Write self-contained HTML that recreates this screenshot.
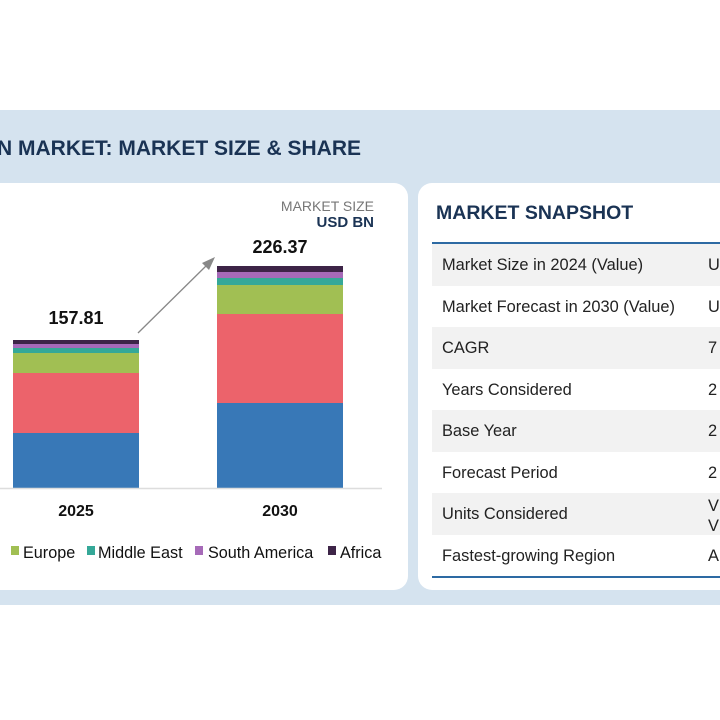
<!DOCTYPE html>
<html><head><style>
body{margin:0;width:720px;height:720px;background:#fff;position:relative;overflow:hidden;font-family:"Liberation Sans",sans-serif}
.band{position:absolute;left:0;top:110px;width:720px;height:495px;background:#d5e3ef}
.t{position:absolute;white-space:nowrap}
.card{position:absolute;background:#fff;border-radius:14px}
.row{position:absolute;left:432px;width:288px;height:41.5px;font-size:16.4px;color:#222}
.row span{position:absolute;top:12px}
</style></head><body>
<div class="band"></div>
<div class="t" style="left:-3px;top:137px;font-size:21px;font-weight:bold;color:#1a3354">N MARKET: MARKET SIZE &amp; SHARE</div>
<div class="card" style="left:-20px;top:183px;width:428px;height:407px"></div>
<div class="card" style="left:418px;top:183px;width:320px;height:407px"></div>
<div class="t" style="right:346px;top:198px;font-size:14px;color:#777;text-align:right">MARKET SIZE</div>
<div class="t" style="right:346px;top:214px;font-size:15px;font-weight:bold;color:#1a3354">USD BN</div>
<svg style="position:absolute;left:0;top:0" width="720" height="720">
<g>
<rect x="13" y="340" width="126" height="4" fill="#3d2447"/>
<rect x="13" y="344" width="126" height="4" fill="#a66ab8"/>
<rect x="13" y="348" width="126" height="5" fill="#35a898"/>
<rect x="13" y="353" width="126" height="20" fill="#a1bf53"/>
<rect x="13" y="373" width="126" height="60" fill="#ec636b"/>
<rect x="13" y="433" width="126" height="55" fill="#3878b7"/>
<rect x="217" y="266" width="126" height="6" fill="#3d2447"/>
<rect x="217" y="272" width="126" height="6" fill="#a66ab8"/>
<rect x="217" y="278" width="126" height="7" fill="#35a898"/>
<rect x="217" y="285" width="126" height="29" fill="#a1bf53"/>
<rect x="217" y="314" width="126" height="89" fill="#ec636b"/>
<rect x="217" y="403" width="126" height="85" fill="#3878b7"/>
</g>
<line x1="0" y1="488.5" x2="382" y2="488.5" stroke="#ddd" stroke-width="1.5"/>
<line x1="138" y1="333" x2="208" y2="264" stroke="#888" stroke-width="1.3"/>
<polygon points="215,257 202,263 209,270" fill="#888"/>
<text x="76" y="324" font-size="18" font-weight="bold" text-anchor="middle" fill="#111" font-family="Liberation Sans">157.81</text>
<text x="280" y="253" font-size="18" font-weight="bold" text-anchor="middle" fill="#111" font-family="Liberation Sans">226.37</text>
<text x="76" y="516" font-size="16" font-weight="bold" text-anchor="middle" fill="#111" font-family="Liberation Sans">2025</text>
<text x="280" y="516" font-size="16" font-weight="bold" text-anchor="middle" fill="#111" font-family="Liberation Sans">2030</text>
<g font-size="16.2" fill="#111" font-family="Liberation Sans">
<rect x="11" y="546" width="8" height="9" fill="#a1bf53"/><text x="23" y="558">Europe</text>
<rect x="87" y="546" width="8" height="9" fill="#35a898"/><text x="98" y="558">Middle East</text>
<rect x="195" y="546" width="8" height="9" fill="#a66ab8"/><text x="208" y="558">South America</text>
<rect x="328" y="546" width="8" height="9" fill="#3d2447"/><text x="340" y="558">Africa</text>
</g>
</svg>
<div class="t" style="left:436px;top:202px;font-size:19.5px;font-weight:bold;color:#1a3354">MARKET SNAPSHOT</div>
<div class="row" style="top:244px;background:#f2f2f2"><span style="left:10px">Market Size in 2024 (Value)</span><span style="left:276px">U</span></div>
<div class="row" style="top:285.5px"><span style="left:10px">Market Forecast in 2030 (Value)</span><span style="left:276px">U</span></div>
<div class="row" style="top:327px;background:#f2f2f2"><span style="left:10px">CAGR</span><span style="left:276px">7</span></div>
<div class="row" style="top:368.5px"><span style="left:10px">Years Considered</span><span style="left:276px">2</span></div>
<div class="row" style="top:410px;background:#f2f2f2"><span style="left:10px">Base Year</span><span style="left:276px">2</span></div>
<div class="row" style="top:451.5px"><span style="left:10px">Forecast Period</span><span style="left:276px">2</span></div>
<div class="row" style="top:493px;background:#f2f2f2"><span style="left:10px">Units Considered</span><span style="left:276px;top:3px;line-height:20px">V<br>V</span></div>
<div class="row" style="top:534.5px"><span style="left:10px">Fastest-growing Region</span><span style="left:276px">A</span></div>
<div style="position:absolute;left:432px;top:242px;width:288px;height:2px;background:#2d6aa3"></div>
<div style="position:absolute;left:432px;top:576px;width:288px;height:2px;background:#2d6aa3"></div>
</body></html>
